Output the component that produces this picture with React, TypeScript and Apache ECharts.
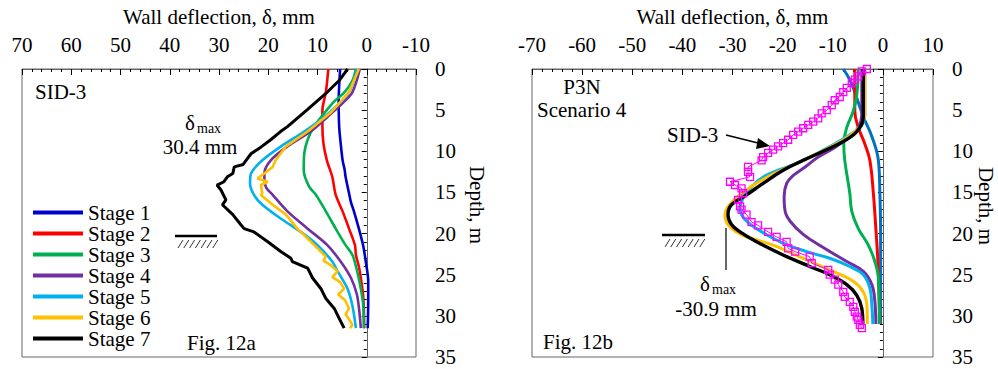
import React, { useEffect, useRef } from "react";
import * as echarts from "echarts";

const FONT = "Liberation Serif";

// ---------- Fig. 12a (SID-3 measured), [deflection mm, depth m] ----------
const stageNames = ["Stage 1", "Stage 2", "Stage 3", "Stage 4", "Stage 5", "Stage 6", "Stage 7"];
const leftColors = ["#0000CC", "#FF0000", "#00B050", "#7030A0", "#00B0F0", "#FFC000", "#000000"];
const rightColors = ["#0070C0", "#FF0000", "#00B050", "#7030A0", "#00B0F0", "#FFC000", "#000000"];

const sidStage1 = [[5.4,0],[5.6,2],[5.7,4],[5.6,7],[5.3,9],[4.9,11.1],[4.5,12.2],[4.3,13.1],[3.6,15.1],[3.2,16.2],[2.6,17.3],[1.6,19.4],[0.75,21.4],[0.2,23.4],[-0.3,25.8],[-0.3,28],[-0.2,31.5]];
const sidStage2 = [[7.8,0],[8.3,2.8],[9.0,5],[9.0,7],[8.8,9],[8.1,11.1],[7.0,13.1],[6.3,15.3],[4.9,17.3],[3.6,19.4],[2.4,21.4],[2.2,22.6],[1.6,24],[1.2,25.4],[0.75,27.4],[0.6,29],[0.5,31.5]];
const sidStage3 = [[2.2,0],[2.9,1.4],[4.5,2.8],[6.7,4.0],[8.8,5.5],[10.7,7],[12.0,8.6],[12.7,10.3],[12.8,12.3],[11.7,14.3],[10.3,15.3],[8.3,17.3],[6.3,19.4],[4.3,21.4],[2.9,22.6],[1.9,24.7],[1.2,26.7],[0.7,28.8],[0.6,31.5]];
const sidStage4 = [[1.4,0],[2.9,2.8],[5,4.2],[7.0,5.3],[11.4,7.6],[16.1,9.4],[19.5,11.1],[20.8,12.7],[20.5,14.3],[19.1,15.3],[16.1,17.3],[12.0,19.4],[8.0,21.4],[5.3,23.4],[3.2,25.4],[2.0,27.4],[1.5,29.5],[1.2,31.5]];
const sidStage5 = [[1.9,0],[3.6,2.8],[7.6,5.3],[12.7,7.6],[17.4,9.4],[21.2,11.1],[23.5,12.7],[23.7,13.9],[22.9,15.3],[21.2,16.5],[17.4,18.2],[13.4,19.8],[10.0,21.4],[7.0,23.4],[5.9,24.6],[3.9,26.7],[2.9,28.8],[2.2,31.5]];
const sidStage6 = [[1.6,0],[3.6,2.8],[7.3,5.3],[12.0,7.6],[16.4,9.4],[18.5,11.1],[19.1,11.9],[20.8,12.7],[22.2,13.3],[20.1,13.7],[21.5,14.1],[21.2,15.1],[21.5,15.3],[19.1,16.5],[16.4,17.7],[14.1,19.4],[12.0,20.6],[10.0,21.8],[8.3,22.8],[8.8,23.3],[7.4,23.8],[5.9,24.6],[7.0,25.3],[5.4,25.9],[4.6,26.7],[5.8,27.4],[4.4,28.1],[3.6,29.1],[4.3,29.8],[3.5,30.5],[2.9,31.1],[3.4,31.5]];
const sidStage7 = [[3.9,0],[4.5,0.5],[5.6,1.4],[8.0,2.8],[12.0,4.9],[16.1,7.0],[17.5,7.6],[19.5,8.6],[21.5,9.5],[23.5,10.3],[24.5,11.1],[25.1,11.6],[26.9,11.9],[27.2,12.7],[28.3,13.1],[29.0,13.7],[30.4,14.1],[29.6,14.7],[28.6,15.9],[29.3,16.5],[27.2,17.7],[25.6,18.9],[24.9,19.4],[22.9,19.8],[20.1,21.0],[17.4,22.2],[15.4,23.0],[15.1,23.4],[12.0,24.2],[11.0,25.4],[9.3,26.7],[8.3,27.9],[6.6,29.1],[5.6,30.3],[4.6,31.5]];

// ---------- Fig. 12b (P3N Scenario 4 computed) ----------
const p3nStage1 = [[-7.9,0],[-6.6,1.3],[-5.5,3],[-3.9,5.8],[-2.2,8.2],[-0.9,11.1],[-0.6,15.1],[-0.45,20],[-0.45,31]];
const p3nStage2 = [[-5.6,0],[-5.6,5.1],[-4.9,7.1],[-3.6,9.1],[-2.6,11.1],[-1.9,15.1],[-1.4,19.4],[-1.0,23.4],[-0.6,31]];
const p3nStage3 = [[-4.9,0],[-5.2,3.1],[-5.9,5.1],[-7.2,7.1],[-7.8,9.1],[-7.6,11.1],[-6.6,15.1],[-6.2,17.3],[-4.9,19.4],[-2.9,21.4],[-1.6,23.4],[-0.9,25.4],[-0.7,31]];
const p3nStage4 = [[-4.2,0],[-4.2,5.5],[-4.9,7.1],[-6.6,8.2],[-9.5,9.5],[-12.9,10.7],[-15.5,11.9],[-18.0,13.0],[-19.2,13.9],[-19.7,15.5],[-19.5,17.3],[-18.5,18.5],[-15.9,20.1],[-11.9,21.7],[-7.2,23.4],[-3.9,24.6],[-2.2,26.2],[-1.6,28.2],[-1.4,31]];
const p3nStage5 = [[-3.6,0],[-3.6,5.5],[-4.4,7.0],[-6.6,8.0],[-9.9,9.2],[-16.5,11.3],[-23.2,12.9],[-26.5,14.5],[-28.3,16.2],[-28.5,17],[-27.5,18.3],[-25.2,19.4],[-20.5,21.0],[-15.2,22.2],[-10.6,23.0],[-6.6,24.0],[-3.9,25.0],[-2.6,26.6],[-2.2,28.7],[-2.0,31]];
const p3nStage6 = [[-3.6,0],[-3.6,5.5],[-4.6,7.0],[-6.6,8.1],[-10.2,9.4],[-16.2,11.2],[-22.0,12.8],[-26,14.2],[-29.5,15.8],[-31.5,17.7],[-30.8,19.0],[-28.0,20.2],[-21.9,21.4],[-15.2,23.2],[-9.9,24.6],[-5.9,25.8],[-3.9,27.1],[-3.2,28.7],[-3.1,31]];
const p3nStage7 = [[-3.9,0],[-3.9,5.8],[-5.2,7.6],[-7.9,8.8],[-11.9,10.0],[-15.9,11.1],[-19.9,12.3],[-23.9,13.9],[-27.2,15.3],[-30.2,16.5],[-30.9,17.7],[-30.2,18.9],[-28.5,19.8],[-25.2,21.0],[-19.9,22.6],[-14.6,24.0],[-10.6,25.0],[-7.2,26.2],[-5.2,27.5],[-4.2,29.1],[-4.0,31]];

// SID-3 measured points shown in Fig. 12b
const sid3Points = [[-3.2,0],[-4.2,0.3],[-4.9,0.9],[-5.6,1.3],[-6.2,1.7],[-7.2,2.3],[-7.9,2.8],[-8.6,3.4],[-9.6,3.8],[-10.2,4.4],[-11.2,5.0],[-12.2,5.4],[-12.9,6.0],[-13.9,6.4],[-14.9,6.8],[-15.9,7.2],[-16.9,7.6],[-17.9,8.0],[-18.9,8.6],[-19.9,9.0],[-20.9,9.4],[-21.9,9.8],[-22.9,10.2],[-23.9,10.7],[-24.2,11.1],[-26.9,11.9],[-26.9,12.5],[-26.5,13.1],[-30.5,13.7],[-29.5,14.1],[-28.2,14.5],[-27.9,15.1],[-28.9,15.9],[-28.5,16.7],[-28.2,17.1],[-27.2,17.7],[-26.2,18.6],[-24.9,19.0],[-22.9,19.8],[-21.2,20.4],[-19.2,21.0],[-18.9,21.8],[-17.5,22.2],[-14.6,22.8],[-14.2,23.6],[-10.9,24.4],[-10.6,25.0],[-9.6,25.6],[-8.9,26.2],[-7.9,27.1],[-7.6,27.7],[-6.6,28.3],[-5.9,28.9],[-5.6,29.5],[-5.2,30.1],[-4.9,30.5],[-4.6,31.1],[-4.2,31.5]];

const depthTicks = [0, 35, 5];
const leftXRange = [-10, 70];
const rightXRange = [-70, 10];

const leftData = [sidStage1, sidStage2, sidStage3, sidStage4, sidStage5, sidStage6, sidStage7];
const rightData = [p3nStage1, p3nStage2, p3nStage3, p3nStage4, p3nStage5, p3nStage6, p3nStage7];

const AXIS_COLOR = "#666666";

function hatch(x0: number, y0: number, w: number) {
  const els: any[] = [
    { type: "line", shape: { x1: x0, y1: y0, x2: x0 + w, y2: y0 }, style: { stroke: "#000", lineWidth: 2.5 } },
  ];
  for (let i = 0; i < 7; i++) {
    const x = x0 + 3 + i * 5.8;
    els.push({ type: "line", shape: { x1: x, y1: y0 + 12, x2: x + 5, y2: y0 + 4 }, style: { stroke: "#333", lineWidth: 1 } });
  }
  return els;
}

function txt(text: string, x: number, y: number, opts: any = {}) {
  return {
    type: "text",
    x,
    y,
    rotation: opts.rotation || 0,
    style: {
      text,
      fontFamily: FONT,
      fontSize: opts.size || 21,
      fill: "#000",
      align: opts.align || "left",
      verticalAlign: "middle",
    },
  };
}

export default function App() {
  const ref = useRef<HTMLDivElement>(null);
  useEffect(() => {
    if (!ref.current) return;
    const chart = echarts.init(ref.current, undefined, { renderer: "svg" });
    const xAxisCommon = (range: number[], inverse: boolean, gridIndex: number) => ({
      type: "value",
      gridIndex,
      position: "top",
      min: range[0],
      max: range[1],
      interval: 10,
      inverse,
      name: "Wall deflection, δ, mm",
      nameLocation: "middle",
      nameGap: 42,
      nameTextStyle: { fontFamily: FONT, fontSize: 21, color: "#000" },
      axisLine: { show: true, lineStyle: { color: AXIS_COLOR, width: 1 } },
      axisTick: { show: true, inside: true, length: 6, lineStyle: { color: "#000" } },
      minorTick: { show: true, splitNumber: 5, length: 3, lineStyle: { color: "#000" } },
      axisLabel: { fontFamily: FONT, fontSize: 21, color: "#000", margin: 14 },
      splitLine: { show: false },
    });
    const yAxisCommon = (gridIndex: number) => ({
      type: "value",
      gridIndex,
      position: "right",
      min: depthTicks[0],
      max: depthTicks[1],
      interval: depthTicks[2],
      inverse: true,
      axisLine: { show: true, lineStyle: { color: AXIS_COLOR, width: 1 } },
      axisTick: { show: true, inside: true, length: 5, lineStyle: { color: "#000" } },
      minorTick: { show: true, splitNumber: 5, length: 3, lineStyle: { color: "#000" } },
      axisLabel: { fontFamily: FONT, fontSize: 21, color: "#000", margin: 19, align: "left" },
      splitLine: { show: false },
    });

    const series: any[] = [];
    leftData.forEach((d, i) => {
      series.push({
        name: stageNames[i],
        type: "line",
        xAxisIndex: 0,
        yAxisIndex: 0,
        data: d,
        symbol: "none",
        smooth: i === 5 || i === 6 ? false : 0.3,
        lineStyle: { color: leftColors[i], width: i === 6 ? 3 : 2.6 },
        itemStyle: { color: leftColors[i] },
      });
    });
    rightData.forEach((d, i) => {
      series.push({
        name: "P3N " + stageNames[i],
        type: "line",
        xAxisIndex: 1,
        yAxisIndex: 1,
        data: d,
        symbol: "none",
        smooth: 0.4,
        lineStyle: { color: rightColors[i], width: i === 6 ? 3.4 : 3 },
        itemStyle: { color: rightColors[i] },
      });
    });
    series.push({
      name: "SID-3 measured",
      type: "line",
      xAxisIndex: 1,
      yAxisIndex: 1,
      data: sid3Points,
      symbol: "rect",
      symbolSize: 7,
      showAllSymbol: true,
      lineStyle: { color: "#FF00FF", width: 1 },
      itemStyle: { color: "rgba(0,0,0,0)", borderColor: "#FF00FF", borderWidth: 1.3 },
    });

    const graphic: any[] = [
      txt("SID-3", 35, 92),
      txt("δ", 185, 123),
      txt("max", 197, 128, { size: 14 }),
      txt("30.4 mm", 200, 147, { align: "center" }),
      txt("Fig. 12a", 187, 343),
      ...hatch(175, 236, 42),
      txt("Depth, m", 477, 205, { align: "center", rotation: -Math.PI / 2 }),
      txt("P3N", 582, 87, { align: "center" }),
      txt("Scenario 4", 537, 110),
      txt("SID-3", 667, 135),
      { type: "line", shape: { x1: 726, y1: 135, x2: 762, y2: 144 }, style: { stroke: "#000", lineWidth: 1.5 } },
      { type: "polygon", shape: { points: [[770, 146], [758, 138], [756, 149]] }, style: { fill: "#000" } },
      ...hatch(662, 235, 43),
      { type: "line", shape: { x1: 726, y1: 228, x2: 726, y2: 270 }, style: { stroke: "#000", lineWidth: 1.2 } },
      txt("δ", 700, 284),
      txt("max", 712, 289, { size: 14 }),
      txt("-30.9 mm", 716, 309, { align: "center" }),
      txt("Fig. 12b", 543, 342),
      txt("Depth, m", 986, 206, { align: "center", rotation: -Math.PI / 2 }),
    ];

    chart.setOption({
      animation: false,
      backgroundColor: "#fff",
      grid: [
        { left: 22, top: 69, width: 394, height: 288, show: true, borderColor: AXIS_COLOR, borderWidth: 1, backgroundColor: "transparent" },
        { left: 532, top: 69, width: 401, height: 288, show: true, borderColor: AXIS_COLOR, borderWidth: 1, backgroundColor: "transparent" },
      ],
      xAxis: [xAxisCommon(leftXRange, true, 0), xAxisCommon(rightXRange, false, 1)],
      yAxis: [yAxisCommon(0), yAxisCommon(1)],
      legend: {
        data: stageNames.map((n) => ({ name: n, icon: "rect" })),
        orient: "vertical",
        left: 33,
        top: 202,
        itemWidth: 50,
        itemHeight: 4,
        itemGap: 0,
        padding: 0,
        textStyle: { fontFamily: FONT, fontSize: 21, color: "#000", lineHeight: 21 },
        selectedMode: false,
      },
      series,
      graphic,
    });
    return () => chart.dispose();
  }, []);
  return (
    <div style={{ position: "fixed", left: 0, top: 0, width: 998, height: 369, background: "#fff", fontFamily: "Liberation Serif" }}>
      <div ref={ref} style={{ width: 998, height: 369 }} />
    </div>
  );
}
